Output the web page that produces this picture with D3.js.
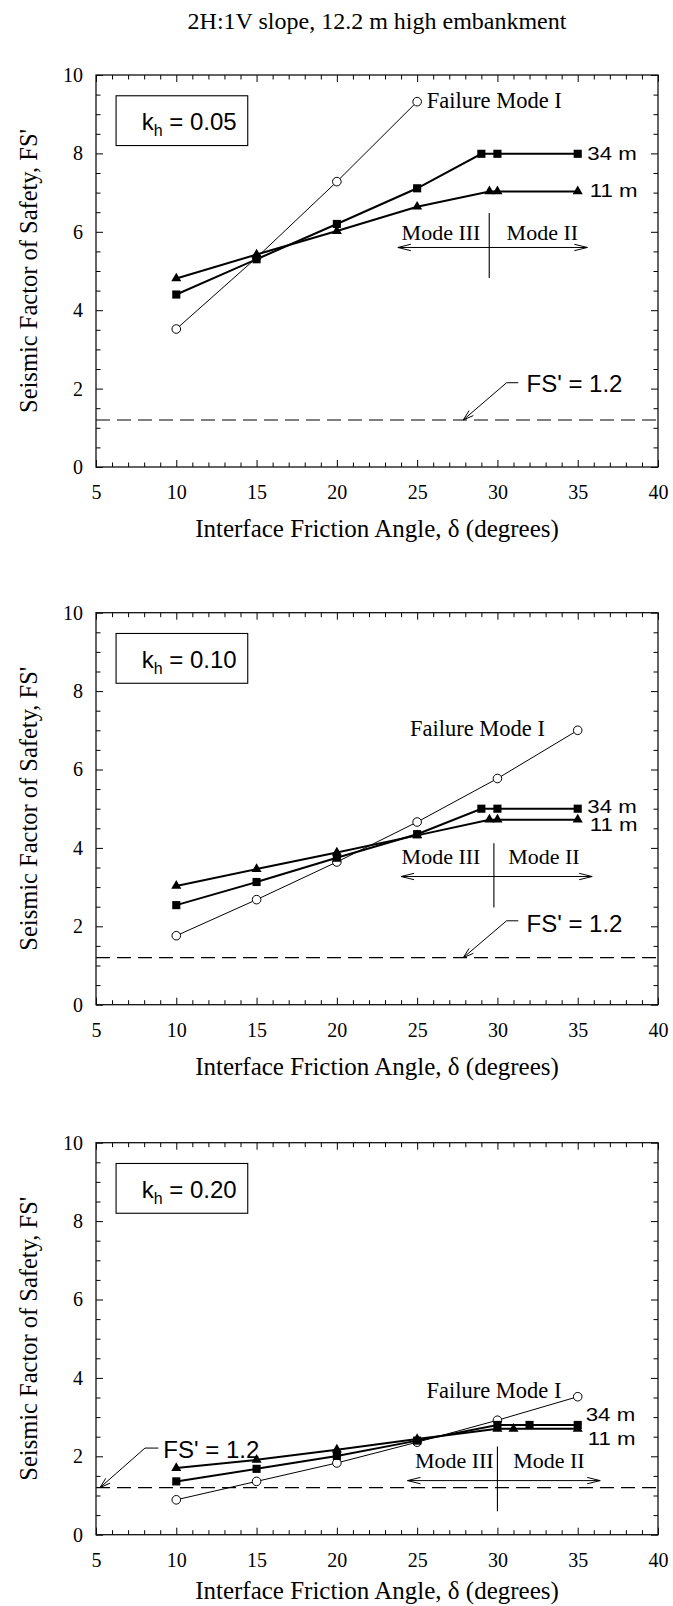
<!DOCTYPE html>
<html><head><meta charset="utf-8">
<script src="https://cdn.jsdelivr.net/npm/d3@7"></script>
<style>html,body{margin:0;padding:0;background:#fff;}svg{display:block;}</style>
</head><body>
<script>
// ---------- DATA ----------
const chartTitle = "2H:1V slope, 12.2 m high embankment";
const xTitle = "Interface Friction Angle, \u03b4 (degrees)";
const yTitle = "Seismic Factor of Safety, FS'";
const xTicks = [5, 10, 15, 20, 25, 30, 35, 40];
const yTicks = [0, 2, 4, 6, 8, 10];
const khLabels = ["0.05", "0.10", "0.20"];
const seriesLabels = ["Failure Mode I", "34 m", "11 m"];
const fsTarget = 1.2;

// k_h = 0.05
const k05_modeI_delta = [10, 15, 20, 25];
const k05_modeI_fs    = [3.52, 5.34, 7.28, 9.32];
const k05_34m_delta   = [10, 15, 20, 25, 29, 30, 35];
const k05_34m_fs      = [4.40, 5.30, 6.20, 7.11, 7.99, 7.99, 7.99];
const k05_11m_delta   = [10, 15, 20, 25, 29.5, 30, 35];
const k05_11m_fs      = [4.81, 5.42, 6.02, 6.64, 7.03, 7.03, 7.03];
// k_h = 0.10
const k10_modeI_delta = [10, 15, 20, 25, 30, 35];
const k10_modeI_fs    = [1.76, 2.68, 3.64, 4.66, 5.77, 7.00];
const k10_34m_delta   = [10, 15, 20, 25, 29, 30, 35];
const k10_34m_fs      = [2.54, 3.13, 3.75, 4.35, 5.00, 5.00, 5.00];
const k10_11m_delta   = [10, 15, 20, 25, 29.5, 30, 35];
const k10_11m_fs      = [3.03, 3.46, 3.88, 4.32, 4.72, 4.72, 4.72];
// k_h = 0.20
const k20_modeI_delta = [10, 15, 20, 25, 30, 35];
const k20_modeI_fs    = [0.89, 1.36, 1.83, 2.36, 2.92, 3.52];
const k20_34m_delta   = [10, 15, 20, 25, 30, 32, 35];
const k20_34m_fs      = [1.36, 1.68, 2.01, 2.40, 2.80, 2.80, 2.80];
const k20_11m_delta   = [10, 15, 20, 25, 30, 31, 35];
const k20_11m_fs      = [1.70, 1.91, 2.17, 2.44, 2.70, 2.70, 2.70];

// ---------- LAYOUT ----------
const W = 673, H = 1606;
const left = 96, right = 658, ph = 392;
const serif = "'Liberation Serif','Times New Roman',serif";
const sans = "'Liberation Sans',Arial,sans-serif";
const pair = (xs, ys) => xs.map((v, i) => [v, ys[i]]);

const panels = [
  { top: 75, kh: khLabels[0],
    modeI: pair(k05_modeI_delta, k05_modeI_fs), m34: pair(k05_34m_delta, k05_34m_fs), m11: pair(k05_11m_delta, k05_11m_fs),
    lblI: [25.6, 9.16], lbl34: [35.6, 7.83], lbl11: [35.75, 6.89],
    modeIII: [24.03, 5.79], modeII: [30.57, 5.79], arrow: [23.8, 35.6, 5.6], vline: [29.49, 4.82, 6.48],
    fs: { tx: 31.81, ty: 1.91, lx1: 31.3, lx2: 30.57, ly: 2.15, tip: 27.87 }, titleGap: 70 },
  { top: 612.7, kh: khLabels[1],
    modeI: pair(k10_modeI_delta, k10_modeI_fs), m34: pair(k10_34m_delta, k10_34m_fs), m11: pair(k10_11m_delta, k10_11m_fs),
    lblI: [24.55, 6.85], lbl34: [35.6, 4.88], lbl11: [35.75, 4.42],
    modeIII: [24.03, 3.58], modeII: [30.67, 3.58], arrow: [24.0, 35.9, 3.27], vline: [29.78, 2.48, 4.12],
    fs: { tx: 31.81, ty: 1.86, lx1: 31.3, lx2: 30.57, ly: 2.14, tip: 27.87 }, titleGap: 70 },
  { top: 1142.7, kh: khLabels[2],
    modeI: pair(k20_modeI_delta, k20_modeI_fs), m34: pair(k20_34m_delta, k20_34m_fs), m11: pair(k20_11m_delta, k20_11m_fs),
    lblI: [25.58, 3.48], lbl34: [35.5, 2.89], lbl11: [35.63, 2.29],
    modeIII: [24.86, 1.70], modeII: [30.98, 1.70], arrow: [24.4, 36.4, 1.38], vline: [30.0, 0.6, 2.25],
    fs: { tx: 9.19, ty: 1.96, lx1: 8.88, lx2: 8.05, ly: 2.21, tip: 5.25 }, titleGap: 64 }
];

const svg = d3.select("body").append("svg").attr("width", W).attr("height", H);

function txt(g, x, y, str, o) {
  return g.append("text")
    .attr("transform", `translate(${x},${y}) scale(${o.sx || 1},1)`)
    .attr("font-family", o.font).attr("font-size", o.size)
    .attr("text-anchor", o.anchor || "start").attr("fill", "#000").text(str);
}

txt(svg, (left + right) / 2, 29, chartTitle, { font: serif, size: 24, anchor: "middle" });

panels.forEach(p => {
  const top = p.top, bottom = top + ph;
  const x = d3.scaleLinear().domain([5, 40]).range([left, right]);
  const y = d3.scaleLinear().domain([0, 10]).range([bottom, top]);
  const g = svg.append("g");

  // FS' = 1.2 dashed line
  g.append("line").attr("x1", x(5)).attr("x2", x(40)).attr("y1", y(fsTarget)).attr("y2", y(fsTarget))
    .attr("stroke", "#000").attr("stroke-width", 1.1).attr("stroke-dasharray", "14,7");

  // axes / ticks
  const xMinor = d3.range(5, 41, 1).filter(v => !xTicks.includes(v));
  const yMinor = d3.range(0, 10.01, 0.5).filter(v => !yTicks.includes(v));
  const mk = (axis, tr) => {
    const a = g.append("g").attr("transform", tr).call(axis);
    a.select(".domain").remove();
    a.attr("font-family", serif).attr("font-size", 20).attr("color", "#000");
    a.selectAll("line").attr("stroke-width", 1);
    return a;
  };
  mk(d3.axisBottom(x).tickValues(xTicks).tickSizeInner(-7).tickSizeOuter(0).tickPadding(18).tickFormat(d3.format("d")), `translate(0,${bottom})`);
  mk(d3.axisBottom(x).tickValues(xMinor).tickSizeInner(-4.5).tickSizeOuter(0).tickFormat(""), `translate(0,${bottom})`);
  mk(d3.axisTop(x).tickValues(xTicks).tickSizeInner(-7).tickSizeOuter(0).tickFormat(""), `translate(0,${top})`);
  mk(d3.axisTop(x).tickValues(xMinor).tickSizeInner(-4.5).tickSizeOuter(0).tickFormat(""), `translate(0,${top})`);
  mk(d3.axisLeft(y).tickValues(yTicks).tickSizeInner(-7).tickSizeOuter(0).tickPadding(13).tickFormat(d3.format("d")), `translate(${left},0)`);
  mk(d3.axisLeft(y).tickValues(yMinor).tickSizeInner(-4.5).tickSizeOuter(0).tickFormat(""), `translate(${left},0)`);
  mk(d3.axisRight(y).tickValues(yTicks).tickSizeInner(-7).tickSizeOuter(0).tickFormat(""), `translate(${right},0)`);
  mk(d3.axisRight(y).tickValues(yMinor).tickSizeInner(-4.5).tickSizeOuter(0).tickFormat(""), `translate(${right},0)`);

  g.append("rect").attr("x", left).attr("y", top).attr("width", right - left).attr("height", ph)
    .attr("fill", "none").attr("stroke", "#111").attr("stroke-width", 1.3);

  // axis titles
  txt(g, (left + right) / 2, bottom + p.titleGap, xTitle, { font: serif, size: 25, anchor: "middle" });
  g.append("text").attr("transform", `translate(28,${(top + bottom) / 2}) rotate(-90)`)
    .attr("dy", "0.35em").attr("text-anchor", "middle").attr("font-family", serif).attr("font-size", 24.5).text(yTitle);

  // lines
  const line = d3.line().x(d => x(d[0])).y(d => y(d[1]));
  g.append("path").attr("d", line(p.modeI)).attr("fill", "none").attr("stroke", "#000").attr("stroke-width", 1);
  g.append("path").attr("d", line(p.m34)).attr("fill", "none").attr("stroke", "#000").attr("stroke-width", 2);
  g.append("path").attr("d", line(p.m11)).attr("fill", "none").attr("stroke", "#000").attr("stroke-width", 2);

  // markers
  g.selectAll(null).data(p.modeI).enter().append("circle")
    .attr("cx", d => x(d[0])).attr("cy", d => y(d[1])).attr("r", 4.3)
    .attr("fill", "#fff").attr("stroke", "#000").attr("stroke-width", 1);
  g.selectAll(null).data(p.m34).enter().append("path")
    .attr("d", d3.symbol(d3.symbolSquare, 66)).attr("transform", d => `translate(${x(d[0])},${y(d[1])})`).attr("fill", "#000");
  g.selectAll(null).data(p.m11).enter().append("path")
    .attr("d", d3.symbol(d3.symbolTriangle, 44)).attr("transform", d => `translate(${x(d[0])},${y(d[1])})`).attr("fill", "#000");

  // k_h box
  g.append("rect").attr("x", x(6.25)).attr("y", y(9.47)).attr("width", x(14.45) - x(6.25)).attr("height", y(8.2) - y(9.47))
    .attr("fill", "#fff").attr("stroke", "#000").attr("stroke-width", 1.1);
  const kt = g.append("text").attr("x", x(7.85)).attr("y", y(8.6)).attr("font-family", sans).attr("font-size", 24).attr("fill", "#000");
  kt.append("tspan").text("k");
  kt.append("tspan").attr("font-size", 16).attr("dy", 6).text("h");
  kt.append("tspan").attr("dy", -6).text(" = " + p.kh);

  // series labels
  txt(g, x(p.lblI[0]), y(p.lblI[1]), seriesLabels[0], { font: serif, size: 22.5 });
  txt(g, x(p.lbl34[0]), y(p.lbl34[1]), seriesLabels[1], { font: sans, size: 17.5, sx: 1.27 });
  txt(g, x(p.lbl11[0]), y(p.lbl11[1]), seriesLabels[2], { font: sans, size: 17.5, sx: 1.27 });

  // Mode III / Mode II annotation
  txt(g, x(p.modeIII[0]), y(p.modeIII[1]), "Mode III", { font: serif, size: 22 });
  txt(g, x(p.modeII[0]), y(p.modeII[1]), "Mode II", { font: serif, size: 22 });
  const ay = y(p.arrow[2]), ax1 = x(p.arrow[0]), ax2 = x(p.arrow[1]);
  g.append("line").attr("x1", ax1).attr("x2", ax2).attr("y1", ay).attr("y2", ay).attr("stroke", "#000").attr("stroke-width", 1);
  g.append("path").attr("d", `M${ax1 + 13},${ay - 3.2}L${ax1},${ay}L${ax1 + 13},${ay + 3.2}M${ax2 - 13},${ay - 3.2}L${ax2},${ay}L${ax2 - 13},${ay + 3.2}`)
    .attr("fill", "none").attr("stroke", "#000").attr("stroke-width", 1);
  g.append("line").attr("x1", x(p.vline[0])).attr("x2", x(p.vline[0])).attr("y1", y(p.vline[1])).attr("y2", y(p.vline[2]))
    .attr("stroke", "#000").attr("stroke-width", 1.1);

  // FS' = 1.2 label with leader
  const f = p.fs;
  txt(g, x(f.tx), y(f.ty), "FS' = 1.2", { font: sans, size: 24 });
  const tx = x(f.tip), ty = y(fsTarget), kx = x(f.lx2), ky = y(f.ly);
  g.append("path").attr("d", `M${x(f.lx1)},${ky}L${kx},${ky}L${tx},${ty}`).attr("fill", "none").attr("stroke", "#000").attr("stroke-width", 1);
  const ang = Math.atan2(ky - ty, kx - tx), L = 11, s = 0.3;
  g.append("path").attr("d", `M${tx + L * Math.cos(ang - s)},${ty + L * Math.sin(ang - s)}L${tx},${ty}L${tx + L * Math.cos(ang + s)},${ty + L * Math.sin(ang + s)}`)
    .attr("fill", "none").attr("stroke", "#000").attr("stroke-width", 1);
});
</script>
</body></html>
